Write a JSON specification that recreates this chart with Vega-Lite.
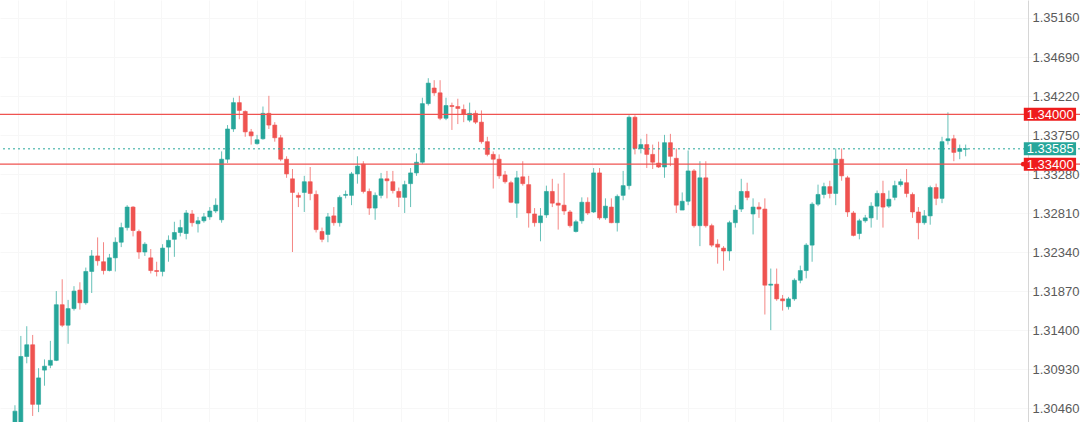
{
  "$schema": "https://vega.github.io/schema/vega-lite/v6.json",
  "width": 1080,
  "height": 422,
  "autosize": {"type": "none"},
  "padding": 0,
  "background": "white",
  "config": {"view": {"stroke": null}, "font": "Liberation Sans"},
  "datasets": {
    "candles": [
      {"k":-1,"o":1.30264,"h":1.30499,"l":1.30205,"c":1.30428},
      {"k":0,"o":1.30264,"h":1.31333,"l":1.30205,"c":1.31086},
      {"k":1,"o":1.31086,"h":1.31450,"l":1.31004,"c":1.31227},
      {"k":2,"o":1.31227,"h":1.31345,"l":1.30370,"c":1.30510},
      {"k":3,"o":1.30510,"h":1.30945,"l":1.30416,"c":1.30828},
      {"k":4,"o":1.30922,"h":1.31051,"l":1.30734,"c":1.30969},
      {"k":5,"o":1.30980,"h":1.31274,"l":1.30945,"c":1.31039},
      {"k":6,"o":1.31039,"h":1.31873,"l":1.31030,"c":1.31709},
      {"k":7,"o":1.31709,"h":1.32015,"l":1.31439,"c":1.31462},
      {"k":8,"o":1.31462,"h":1.31767,"l":1.31239,"c":1.31662},
      {"k":9,"o":1.31662,"h":1.31932,"l":1.31638,"c":1.31873},
      {"k":10,"o":1.31885,"h":1.31979,"l":1.31650,"c":1.31732},
      {"k":11,"o":1.31732,"h":1.32156,"l":1.31709,"c":1.32109},
      {"k":12,"o":1.32109,"h":1.32367,"l":1.31850,"c":1.32296},
      {"k":13,"o":1.32296,"h":1.32519,"l":1.32179,"c":1.32238},
      {"k":14,"o":1.32226,"h":1.32461,"l":1.32073,"c":1.32120},
      {"k":15,"o":1.32120,"h":1.32320,"l":1.32110,"c":1.32273},
      {"k":16,"o":1.32273,"h":1.32519,"l":1.32109,"c":1.32461},
      {"k":17,"o":1.32461,"h":1.32696,"l":1.32402,"c":1.32637},
      {"k":18,"o":1.32637,"h":1.32907,"l":1.32602,"c":1.32884},
      {"k":19,"o":1.32884,"h":1.32895,"l":1.32531,"c":1.32602},
      {"k":20,"o":1.32590,"h":1.32613,"l":1.32261,"c":1.32343},
      {"k":21,"o":1.32343,"h":1.32461,"l":1.32296,"c":1.32437},
      {"k":22,"o":1.32273,"h":1.32379,"l":1.32085,"c":1.32120},
      {"k":23,"o":1.32120,"h":1.32226,"l":1.32050,"c":1.32109},
      {"k":24,"o":1.32109,"h":1.32437,"l":1.32050,"c":1.32390},
      {"k":25,"o":1.32402,"h":1.32543,"l":1.32226,"c":1.32484},
      {"k":26,"o":1.32496,"h":1.32707,"l":1.32285,"c":1.32578},
      {"k":27,"o":1.32578,"h":1.32731,"l":1.32531,"c":1.32637},
      {"k":28,"o":1.32566,"h":1.32848,"l":1.32496,"c":1.32813},
      {"k":29,"o":1.32801,"h":1.32848,"l":1.32649,"c":1.32696},
      {"k":30,"o":1.32684,"h":1.32766,"l":1.32578,"c":1.32719},
      {"k":31,"o":1.32719,"h":1.32813,"l":1.32696,"c":1.32766},
      {"k":32,"o":1.32766,"h":1.32884,"l":1.32731,"c":1.32837},
      {"k":33,"o":1.32837,"h":1.32989,"l":1.32813,"c":1.32907},
      {"k":34,"o":1.32731,"h":1.33554,"l":1.32696,"c":1.33460},
      {"k":35,"o":1.33460,"h":1.33871,"l":1.33413,"c":1.33824},
      {"k":36,"o":1.33824,"h":1.34200,"l":1.33789,"c":1.34141},
      {"k":37,"o":1.34141,"h":1.34223,"l":1.33941,"c":1.34047},
      {"k":38,"o":1.34035,"h":1.34047,"l":1.33730,"c":1.33789},
      {"k":39,"o":1.33789,"h":1.33824,"l":1.33636,"c":1.33741},
      {"k":40,"o":1.33647,"h":1.33753,"l":1.33636,"c":1.33694},
      {"k":41,"o":1.33706,"h":1.34094,"l":1.33694,"c":1.34012},
      {"k":42,"o":1.34012,"h":1.34223,"l":1.33824,"c":1.33871},
      {"k":43,"o":1.33871,"h":1.33906,"l":1.33671,"c":1.33718},
      {"k":44,"o":1.33718,"h":1.33753,"l":1.33436,"c":1.33460},
      {"k":45,"o":1.33460,"h":1.33495,"l":1.33236,"c":1.33283},
      {"k":46,"o":1.33224,"h":1.33342,"l":1.32343,"c":1.33060},
      {"k":47,"o":1.33025,"h":1.33060,"l":1.32884,"c":1.33001},
      {"k":48,"o":1.33060,"h":1.33260,"l":1.32825,"c":1.33189},
      {"k":49,"o":1.33189,"h":1.33366,"l":1.32966,"c":1.33048},
      {"k":50,"o":1.33036,"h":1.33083,"l":1.32578,"c":1.32613},
      {"k":51,"o":1.32590,"h":1.32637,"l":1.32461,"c":1.32496},
      {"k":52,"o":1.32555,"h":1.32813,"l":1.32461,"c":1.32766},
      {"k":53,"o":1.32778,"h":1.32884,"l":1.32660,"c":1.32696},
      {"k":54,"o":1.32696,"h":1.33025,"l":1.32649,"c":1.33001},
      {"k":55,"o":1.33025,"h":1.33083,"l":1.32989,"c":1.33036},
      {"k":56,"o":1.33025,"h":1.33307,"l":1.32907,"c":1.33283},
      {"k":57,"o":1.33283,"h":1.33495,"l":1.33166,"c":1.33377},
      {"k":58,"o":1.33401,"h":1.33436,"l":1.33048,"c":1.33072},
      {"k":59,"o":1.33072,"h":1.33107,"l":1.32790,"c":1.32872},
      {"k":60,"o":1.32872,"h":1.33060,"l":1.32731,"c":1.33025},
      {"k":61,"o":1.33025,"h":1.33295,"l":1.32989,"c":1.33224},
      {"k":62,"o":1.33224,"h":1.33319,"l":1.32989,"c":1.33201},
      {"k":63,"o":1.33189,"h":1.33319,"l":1.33048,"c":1.33083},
      {"k":64,"o":1.33072,"h":1.33119,"l":1.32884,"c":1.33001},
      {"k":65,"o":1.33001,"h":1.33201,"l":1.32813,"c":1.33154},
      {"k":66,"o":1.33166,"h":1.33354,"l":1.32884,"c":1.33295},
      {"k":67,"o":1.33295,"h":1.33530,"l":1.33260,"c":1.33424},
      {"k":68,"o":1.33424,"h":1.34200,"l":1.33401,"c":1.34129},
      {"k":69,"o":1.34129,"h":1.34435,"l":1.34106,"c":1.34376},
      {"k":70,"o":1.34317,"h":1.34411,"l":1.34223,"c":1.34259},
      {"k":71,"o":1.34259,"h":1.34411,"l":1.33930,"c":1.33953},
      {"k":72,"o":1.33953,"h":1.34200,"l":1.33930,"c":1.34106},
      {"k":73,"o":1.34106,"h":1.34141,"l":1.33812,"c":1.34094},
      {"k":74,"o":1.34094,"h":1.34188,"l":1.33883,"c":1.34071},
      {"k":75,"o":1.34059,"h":1.34118,"l":1.33906,"c":1.34000},
      {"k":76,"o":1.33930,"h":1.34141,"l":1.33906,"c":1.34012},
      {"k":77,"o":1.34012,"h":1.34047,"l":1.33883,"c":1.33906},
      {"k":78,"o":1.33906,"h":1.34047,"l":1.33647,"c":1.33671},
      {"k":79,"o":1.33671,"h":1.33730,"l":1.33495,"c":1.33518},
      {"k":80,"o":1.33518,"h":1.33554,"l":1.33107,"c":1.33460},
      {"k":81,"o":1.33460,"h":1.33518,"l":1.33224,"c":1.33260},
      {"k":82,"o":1.33271,"h":1.33319,"l":1.33166,"c":1.33189},
      {"k":83,"o":1.33177,"h":1.33201,"l":1.32931,"c":1.32942},
      {"k":84,"o":1.32931,"h":1.33319,"l":1.32754,"c":1.33236},
      {"k":85,"o":1.33248,"h":1.33436,"l":1.33142,"c":1.33166},
      {"k":86,"o":1.33154,"h":1.33260,"l":1.32637,"c":1.32813},
      {"k":87,"o":1.32801,"h":1.32872,"l":1.32649,"c":1.32696},
      {"k":88,"o":1.32696,"h":1.32872,"l":1.32472,"c":1.32778},
      {"k":89,"o":1.32790,"h":1.33142,"l":1.32754,"c":1.33072},
      {"k":90,"o":1.33072,"h":1.33224,"l":1.32884,"c":1.32931},
      {"k":91,"o":1.32931,"h":1.33166,"l":1.32613,"c":1.32907},
      {"k":92,"o":1.32907,"h":1.33295,"l":1.32790,"c":1.32837},
      {"k":93,"o":1.32825,"h":1.32848,"l":1.32637,"c":1.32660},
      {"k":94,"o":1.32590,"h":1.32731,"l":1.32578,"c":1.32707},
      {"k":95,"o":1.32719,"h":1.33001,"l":1.32684,"c":1.32942},
      {"k":96,"o":1.32942,"h":1.33001,"l":1.32790,"c":1.32813},
      {"k":97,"o":1.32825,"h":1.33354,"l":1.32813,"c":1.33295},
      {"k":98,"o":1.33295,"h":1.33354,"l":1.32731,"c":1.32754},
      {"k":99,"o":1.32754,"h":1.32989,"l":1.32731,"c":1.32895},
      {"k":100,"o":1.32884,"h":1.32989,"l":1.32690,"c":1.32696},
      {"k":101,"o":1.32696,"h":1.33036,"l":1.32590,"c":1.33013},
      {"k":102,"o":1.33025,"h":1.33319,"l":1.32966,"c":1.33142},
      {"k":103,"o":1.33142,"h":1.33988,"l":1.33095,"c":1.33965},
      {"k":104,"o":1.33965,"h":1.33988,"l":1.33518,"c":1.33589},
      {"k":105,"o":1.33589,"h":1.33706,"l":1.33530,"c":1.33636},
      {"k":106,"o":1.33636,"h":1.33765,"l":1.33354,"c":1.33518},
      {"k":107,"o":1.33518,"h":1.33636,"l":1.33342,"c":1.33424},
      {"k":108,"o":1.33413,"h":1.33671,"l":1.33354,"c":1.33366},
      {"k":109,"o":1.33366,"h":1.33753,"l":1.33236,"c":1.33659},
      {"k":110,"o":1.33659,"h":1.33765,"l":1.33377,"c":1.33495},
      {"k":111,"o":1.33471,"h":1.33589,"l":1.32813,"c":1.32907},
      {"k":112,"o":1.32848,"h":1.33060,"l":1.32848,"c":1.32954},
      {"k":113,"o":1.32954,"h":1.33565,"l":1.32907,"c":1.33319},
      {"k":114,"o":1.33319,"h":1.33342,"l":1.32637,"c":1.32660},
      {"k":115,"o":1.32660,"h":1.33436,"l":1.32414,"c":1.33236},
      {"k":116,"o":1.33236,"h":1.33436,"l":1.32637,"c":1.32660},
      {"k":117,"o":1.32660,"h":1.32684,"l":1.32402,"c":1.32426},
      {"k":118,"o":1.32437,"h":1.32496,"l":1.32203,"c":1.32402},
      {"k":119,"o":1.32390,"h":1.32414,"l":1.32120,"c":1.32355},
      {"k":120,"o":1.32355,"h":1.32719,"l":1.32238,"c":1.32696},
      {"k":121,"o":1.32696,"h":1.32907,"l":1.32637,"c":1.32848},
      {"k":122,"o":1.32860,"h":1.33224,"l":1.32825,"c":1.33072},
      {"k":123,"o":1.33072,"h":1.33177,"l":1.32966,"c":1.33001},
      {"k":124,"o":1.32801,"h":1.32989,"l":1.32555,"c":1.32884},
      {"k":125,"o":1.32884,"h":1.32942,"l":1.32754,"c":1.32860},
      {"k":126,"o":1.32860,"h":1.32989,"l":1.31591,"c":1.31944},
      {"k":127,"o":1.31944,"h":1.32144,"l":1.31403,"c":1.31956},
      {"k":128,"o":1.31956,"h":1.32144,"l":1.31756,"c":1.31779},
      {"k":129,"o":1.31779,"h":1.31826,"l":1.31638,"c":1.31756},
      {"k":130,"o":1.31685,"h":1.31803,"l":1.31650,"c":1.31779},
      {"k":131,"o":1.31779,"h":1.32026,"l":1.31756,"c":1.32003},
      {"k":132,"o":1.32003,"h":1.32179,"l":1.31967,"c":1.32120},
      {"k":133,"o":1.32120,"h":1.32449,"l":1.32026,"c":1.32426},
      {"k":134,"o":1.32426,"h":1.32942,"l":1.32226,"c":1.32919},
      {"k":135,"o":1.32919,"h":1.33154,"l":1.32895,"c":1.33036},
      {"k":136,"o":1.33036,"h":1.33177,"l":1.32989,"c":1.33130},
      {"k":137,"o":1.33130,"h":1.33201,"l":1.32989,"c":1.33048},
      {"k":138,"o":1.33048,"h":1.33589,"l":1.32907,"c":1.33460},
      {"k":139,"o":1.33460,"h":1.33589,"l":1.33201,"c":1.33260},
      {"k":140,"o":1.33236,"h":1.33260,"l":1.32766,"c":1.32825},
      {"k":141,"o":1.32813,"h":1.32837,"l":1.32531,"c":1.32543},
      {"k":142,"o":1.32566,"h":1.32743,"l":1.32496,"c":1.32719},
      {"k":143,"o":1.32719,"h":1.32790,"l":1.32696,"c":1.32754},
      {"k":144,"o":1.32754,"h":1.32942,"l":1.32637,"c":1.32895},
      {"k":145,"o":1.32895,"h":1.33083,"l":1.32731,"c":1.33048},
      {"k":146,"o":1.33048,"h":1.33201,"l":1.32637,"c":1.32884},
      {"k":147,"o":1.32895,"h":1.33083,"l":1.32872,"c":1.32978},
      {"k":148,"o":1.33001,"h":1.33201,"l":1.32966,"c":1.33142},
      {"k":149,"o":1.33154,"h":1.33224,"l":1.33130,"c":1.33189},
      {"k":150,"o":1.33177,"h":1.33342,"l":1.33001,"c":1.33048},
      {"k":151,"o":1.33036,"h":1.33060,"l":1.32754,"c":1.32825},
      {"k":152,"o":1.32825,"h":1.32884,"l":1.32496,"c":1.32696},
      {"k":153,"o":1.32696,"h":1.32848,"l":1.32672,"c":1.32778},
      {"k":154,"o":1.32778,"h":1.33142,"l":1.32672,"c":1.33119},
      {"k":155,"o":1.33119,"h":1.33166,"l":1.32907,"c":1.32989},
      {"k":156,"o":1.32989,"h":1.33730,"l":1.32931,"c":1.33671},
      {"k":157,"o":1.33683,"h":1.34024,"l":1.33636,"c":1.33706},
      {"k":158,"o":1.33706,"h":1.33753,"l":1.33436,"c":1.33542},
      {"k":159,"o":1.33554,"h":1.33636,"l":1.33460,"c":1.33589},
      {"k":160,"o":1.33580,"h":1.33636,"l":1.33495,"c":1.33585}
    ],
    "levels": [
      {"p": 1.34, "t": "1.34000", "kind": "line"},
      {"p": 1.33585, "t": "1.33585", "kind": "price"},
      {"p": 1.334, "t": "1.33400", "kind": "line"}
    ]
  },
  "layer": [
    {
      "data": {"name": "candles"},
      "mark": {"type": "rule", "strokeWidth": 1, "opacity": 0.7, "clip": true},
      "encoding": {
        "x": {"field": "k", "type": "quantitative",
          "scale": {"domain": [-2.685, 178.52], "nice": false, "zero": false},
          "axis": {"title": null, "labels": false, "ticks": false, "domain": false, "grid": true, "gridColor": "#f7f7f7",
            "values": [-0.5, 7.6, 15.7, 23.8, 31.9, 40, 48.1, 56.2, 64.3, 72.4, 80.5, 88.6, 96.7, 104.8, 112.9, 121, 129.1, 137.2, 145.3, 153.4, 161.5]}},
        "y": {"field": "l", "type": "quantitative",
          "scale": {"domain": [1.303575, 1.35316], "nice": false, "zero": false},
          "axis": {"title": null, "orient": "right", "offset": -52, "ticks": false, "domain": true, "domainColor": "#d6d6d6",
            "labelPadding": 4, "labelColor": "#5a5a5a", "labelFontSize": 13, "labelFont": "Liberation Sans",
            "grid": true, "gridColor": "#f7f7f7", "format": ".5f",
            "values": [1.3046, 1.3093, 1.314, 1.3187, 1.3234, 1.3281, 1.3328, 1.3375, 1.3422, 1.3469, 1.3516]}},
        "y2": {"field": "h"},
        "color": {"condition": {"test": "datum.o <= datum.c", "value": "#26a69a"}, "value": "#ef5350"}
      }
    },
    {
      "data": {"name": "candles"},
      "mark": {"type": "bar", "size": 4, "strokeWidth": 0.6, "clip": true},
      "encoding": {
        "x": {"field": "k", "type": "quantitative"},
        "y": {"field": "o", "type": "quantitative"},
        "y2": {"field": "c"},
        "color": {"condition": {"test": "datum.o <= datum.c", "value": "#26a69a"}, "value": "#ef5350"},
        "stroke": {"condition": {"test": "datum.o <= datum.c", "value": "#26a69a"}, "value": "#ef5350"}
      }
    },
    {
      "data": {"name": "levels"},
      "transform": [{"filter": "datum.kind == 'line'"}],
      "mark": {"type": "rule", "color": "#ef5350", "strokeWidth": 1.3},
      "encoding": {"y": {"field": "p", "type": "quantitative"}}
    },
    {
      "data": {"name": "levels"},
      "transform": [{"filter": "datum.kind == 'price'"}],
      "mark": {"type": "rule", "color": "#26a69a", "strokeWidth": 1, "strokeDash": [2, 3]},
      "encoding": {"y": {"field": "p", "type": "quantitative"}}
    },
    {
      "data": {"name": "levels"},
      "mark": {"type": "bar", "orient": "horizontal", "size": 13},
      "encoding": {
        "x": {"datum": 169.85, "type": "quantitative"},
        "x2": {"datum": 178.7},
        "y": {"field": "p", "type": "quantitative"},
        "color": {"condition": {"test": "datum.kind == 'price'", "value": "#26a69a"}, "value": "#ee1c1c"}
      }
    },
    {
      "data": {"name": "levels"},
      "transform": [{"filter": "datum.t == '1.33400'"}],
      "mark": {"type": "point", "shape": "circle", "filled": true, "size": 22, "color": "#ee1c1c", "opacity": 1},
      "encoding": {
        "x": {"datum": 169.75, "type": "quantitative"},
        "y": {"field": "p", "type": "quantitative"}
      }
    },
    {
      "data": {"name": "levels"},
      "mark": {"type": "text", "align": "left", "baseline": "middle", "color": "white", "fontSize": 13, "font": "Liberation Sans", "dy": 0.5},
      "encoding": {
        "x": {"datum": 170.35, "type": "quantitative"},
        "y": {"field": "p", "type": "quantitative"},
        "text": {"field": "t"}
      }
    }
  ]
}
